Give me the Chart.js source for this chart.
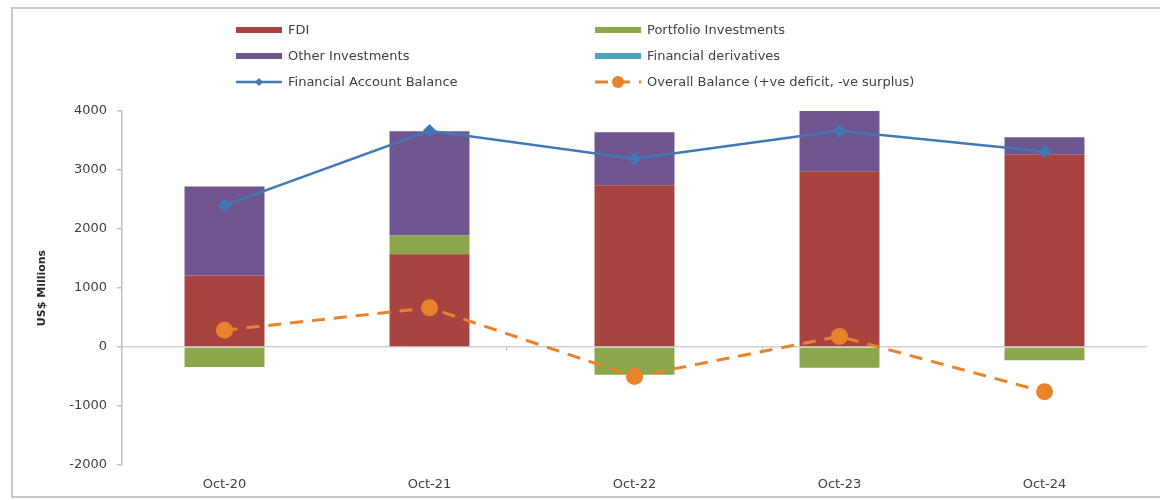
<!DOCTYPE html>
<html>
<head>
<meta charset="utf-8">
<script src="https://cdn.jsdelivr.net/npm/chart.js@4.4.0/dist/chart.umd.min.js"></script>
<style>
  html, body { margin: 0; padding: 0; background: #fff; overflow: hidden; }
  #wrap { position: relative; width: 1160px; height: 500px; overflow: hidden; }
  #frame {
    position: absolute; left: 11px; top: 7px; width: 1400px; height: 491px;
    border: 2px solid #c8c8c8; box-sizing: border-box; pointer-events: none;
  }
  #chart { position: absolute; left: 0; top: 0; }
</style>
</head>
<body>
<div id="wrap">
  <div id="frame"></div>
  <canvas id="chart" width="1160" height="500"></canvas>
</div>
<script>
// ---- data (US$ millions) ----
const periods = ['Oct-20', 'Oct-21', 'Oct-22', 'Oct-23', 'Oct-24'];
const fdi = [1210, 1570, 2740, 2980, 3260];
const portfolio = [-340, 320, -470, -350, -225];
const otherInv = [1510, 1765, 900, 1025, 295];
const derivatives = [0, 0, 0, 0, 0];
const finAccountBalance = [2400, 3665, 3190, 3665, 3315];
const overallBalance = [285, 665, -500, 180, -760];
const yTicks = [-2000, -1000, 0, 1000, 2000, 3000, 4000];

const colors = {
    fdi: '#a8443f',
    portfolio: '#8ba64b',
    other: '#715590',
    derivatives: '#4aa3bd',
    finBalance: '#4178b6',
    overall: '#e8832c',
    text: '#404040',
    axis: '#c0c0c0'
};

const FONT = "'DejaVu Sans', sans-serif";

// two-column legend drawn on the canvas, one row per pair of datasets
const gridLegend = {
    id: 'gridLegend',
    afterDraw(chart) {
        const ctx = chart.ctx;
        const colX = [236, 595];
        const rowY = [30, 56, 82];
        const sw = 46;
        ctx.save();
        ctx.font = '13px ' + FONT;
        ctx.textBaseline = 'middle';
        ctx.textAlign = 'left';
        chart.data.datasets.forEach((ds, i) => {
            const x = colX[i % 2];
            const y = rowY[Math.floor(i / 2)];
            if (ds.type === 'line') {
                ctx.strokeStyle = ds.borderColor;
                ctx.fillStyle = ds.borderColor;
                ctx.lineWidth = ds.borderWidth;
                ctx.setLineDash(ds.borderDash || []);
                ctx.beginPath();
                ctx.moveTo(x, y);
                ctx.lineTo(x + sw, y);
                ctx.stroke();
                ctx.setLineDash([]);
                const cx = x + sw / 2;
                const r = ds.pointRadius - 1;
                ctx.beginPath();
                if (ds.pointStyle === 'rectRot') {
                    ctx.moveTo(cx, y - r); ctx.lineTo(cx + r, y);
                    ctx.lineTo(cx, y + r); ctx.lineTo(cx - r, y);
                    ctx.closePath();
                } else {
                    ctx.arc(cx, y, r, 0, Math.PI * 2);
                }
                ctx.fill();
            } else {
                ctx.fillStyle = ds.backgroundColor;
                ctx.fillRect(x, y - 3, sw, 6);
            }
            ctx.fillStyle = colors.text;
            ctx.fillText(ds.label, x + sw + 6, y + 1);
        });
        ctx.restore();
    }
};

const barDefaults = { type: 'bar', order: 1, stack: 'flows', borderWidth: 0, barPercentage: 0.39, categoryPercentage: 1 };

new Chart(document.getElementById('chart'), {
    data: {
        labels: periods,
        datasets: [
            { ...barDefaults, label: 'FDI', data: fdi, backgroundColor: colors.fdi },
            { ...barDefaults, label: 'Portfolio Investments', data: portfolio, backgroundColor: colors.portfolio },
            { ...barDefaults, label: 'Other Investments', data: otherInv, backgroundColor: colors.other },
            { ...barDefaults, label: 'Financial derivatives', data: derivatives, backgroundColor: colors.derivatives },
            {
                type: 'line', order: 0, stack: 'fab', label: 'Financial Account Balance', data: finAccountBalance,
                borderColor: colors.finBalance, backgroundColor: colors.finBalance,
                borderWidth: 2.5, pointStyle: 'rectRot', pointRadius: 5, tension: 0
            },
            {
                type: 'line', order: 0, stack: 'ob', label: 'Overall Balance (+ve deficit, -ve surplus)', data: overallBalance,
                borderColor: colors.overall, backgroundColor: colors.overall,
                borderWidth: 3, borderDash: [13, 9], pointStyle: 'circle', pointRadius: 7, tension: 0
            }
        ]
    },
    options: {
        responsive: false,
        animation: false,
        layout: { padding: { top: 111, right: 13, bottom: 7, left: 32 } },
        plugins: {
            legend: { display: false },
            tooltip: { enabled: false }
        },
        scales: {
            x: {
                stacked: true,
                afterFit: scale => { scale.height = 28; },
                grid: { display: false, drawTicks: false },
                border: { display: false },
                ticks: { color: colors.text, font: { family: FONT, size: 13 }, padding: 12 }
            },
            // small category separators sitting on the zero line
            xZero: {
                type: 'category',
                position: { y: 0 },
                ticks: { display: false },
                grid: { offset: true, drawOnChartArea: false, tickLength: 4, color: colors.axis },
                border: { display: false }
            },
            y: {
                stacked: true,
                min: -2000,
                max: 4000,
                afterBuildTicks: scale => { scale.ticks = yTicks.map(v => ({ value: v })); },
                afterFit: scale => { scale.width = 90; },
                grid: {
                    color: c => (c.tick && c.tick.value === 0 ? '#cfcfcf' : 'rgba(0,0,0,0)'),
                    tickColor: colors.axis,
                    tickLength: 5,
                    lineWidth: 1.5
                },
                border: { color: colors.axis, width: 1.5 },
                ticks: {
                    color: colors.text, font: { family: FONT, size: 13 }, padding: 10,
                    callback: v => String(v)
                },
                title: {
                    display: true, text: 'US$ Millions', color: '#262626',
                    font: { family: FONT, size: 11, weight: 'bold' }, padding: { top: 4, bottom: 0 }
                }
            }
        }
    },
    plugins: [gridLegend]
});
</script>
</body>
</html>
